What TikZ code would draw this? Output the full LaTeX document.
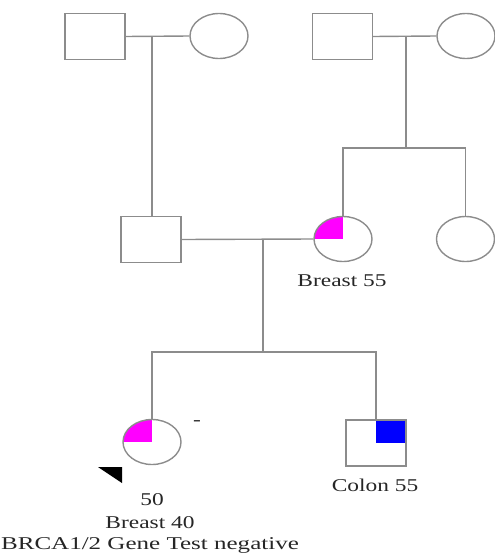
\documentclass[tikz,border=0pt]{standalone}
\usepackage{fontspec}
\setmainfont{Liberation Serif}
\usetikzlibrary{shapes.geometric}
\definecolor{lin}{HTML}{8C8C8C}
\definecolor{pink}{HTML}{FF00FF}
\definecolor{blu}{HTML}{0000FF}
\definecolor{txt}{HTML}{262626}
\tikzset{
  male/.style={draw=lin, line width=1.4pt, rectangle, inner sep=0pt, minimum width=60pt, minimum height=46pt},
  female/.style={draw=lin, line width=1.4pt, ellipse, inner sep=0pt, minimum width=58pt, minimum height=45pt},
  affpink/.style={path picture={\fill[pink] (path picture bounding box.center) rectangle (path picture bounding box.north west);}},
  affblue/.style={path picture={\fill[blu] (path picture bounding box.center) rectangle ([xshift=-0.7pt,yshift=-0.7pt]path picture bounding box.north east);}},
  conn/.style={draw=lin, line width=1.4pt},
  lab/.style={text=txt, font=\fontsize{18}{20}\selectfont, inner sep=0pt}
}
\newcommand{\wide}[2][1.3]{\scalebox{#1}[1]{#2}}
\begin{document}
\begin{tikzpicture}[x=1pt,y=-1pt]
\useasboundingbox (0,0) rectangle (495,554);
% generation 1
\node[male] (A) at (95,36.5) {};
\node[female] (B) at (219,36) {};
\node[male] (C) at (342.5,36.5) {};
\node[female] (D) at (466,36) {};
% generation 2
\node[male] (E) at (151,239.5) {};
\node[female, affpink] (F) at (343,239) {};
\node[female] (G) at (465.5,239) {};
% generation 3
\node[female, affpink] (H) at (152,442) {};
\node[male, affblue] (I) at (376,443) {};
% relationship lines
\coordinate (m1) at (152,36);
\coordinate (m2) at (406,36);
\coordinate (s2) at (406,148);
\coordinate (m3) at (263,239);
\coordinate (s3) at (263,352);
\draw[conn] (A.east) -- (B.west);
\draw[conn] (m1) -- (m1 |- E.north);
\draw[conn] (C.east) -- (D.west);
\draw[conn] (m2) -- (s2);
\draw[conn] (F.north) -- (F.north |- s2) -- (G.north |- s2) -- (G.north);
\draw[conn] (E.east) -- (F.west);
\draw[conn] (m3) -- (s3);
\draw[conn] (H.north) -- (H.north |- s3) -- (I.north |- s3) -- (I.north);
% proband arrow
\coordinate (p1) at (98,467);
\coordinate (p2) at (122,467);
\coordinate (p3) at (122,483);
\fill[black] (p1) -- (p2) -- (p3) -- cycle;
% labels
\node[lab] (tF) at (342,281) {\wide{Breast 55}};
\node[lab] (tdash) at (197,423) {\wide{-}};
\node[lab] (tI) at (375,485) {\wide{Colon 55}};
\node[lab] (t50) at (152,500) {\wide{50}};
\node[lab] (tb40) at (150,523) {\wide{Breast 40}};
\node[lab] (tbrca) at (150,545) {\wide[1.39]{BRCA1/2 Gene Test negative}};
\end{tikzpicture}
\end{document}
